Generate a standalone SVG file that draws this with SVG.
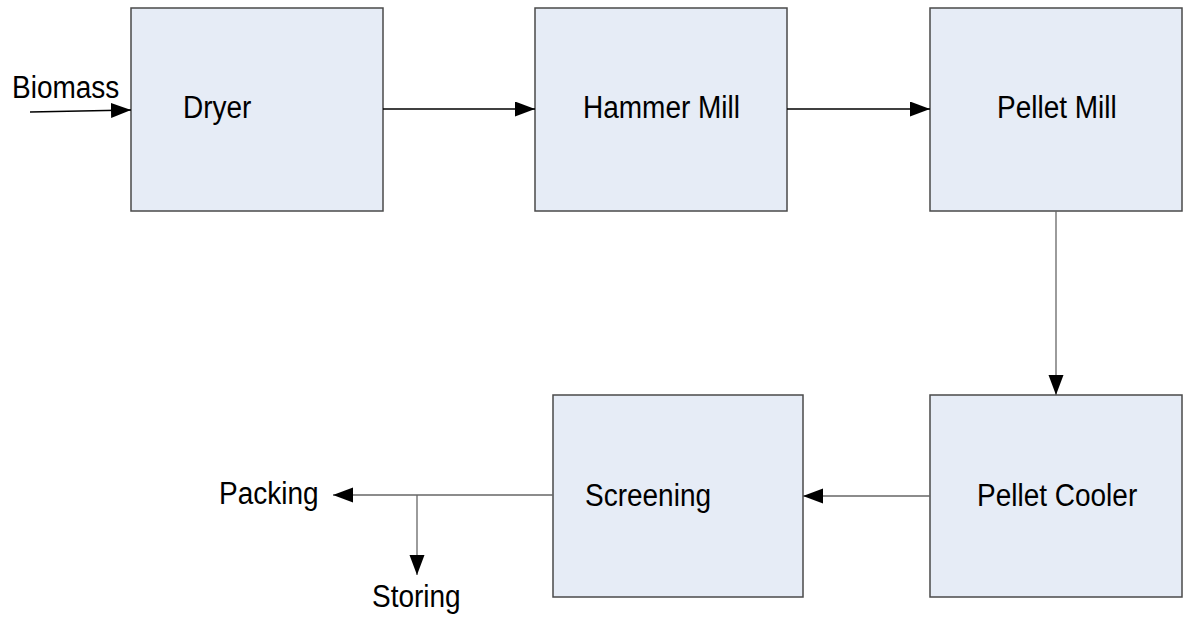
<svg xmlns="http://www.w3.org/2000/svg" width="1184" height="620" viewBox="0 0 1184 620">
<style>
.box{fill:#E6ECF6;stroke:#4a4a4a;stroke-width:1.5}
.lbl{font-family:"Liberation Sans",Arial,sans-serif;font-size:28px;fill:#000}
.conn{stroke:#000;stroke-width:1.3;fill:none}
.gray{stroke:#666}
</style>
<defs>
<marker id="ah" markerUnits="userSpaceOnUse" markerWidth="22" markerHeight="16" refX="20" refY="7.5" orient="auto">
<path d="M0,0 L20,7.5 L0,15 z" fill="#000"/>
</marker>
</defs>
<rect width="1184" height="620" fill="#fff"/>
<g id="dryer"><rect class="box" x="131" y="8" width="252" height="203"/><text class="lbl" transform="translate(183,118) scale(1,1.13)">Dryer</text></g>
<g id="hammer-mill"><rect class="box" x="535" y="8" width="252" height="203"/><text class="lbl" transform="translate(583,118) scale(1,1.13)">Hammer Mill</text></g>
<g id="pellet-mill"><rect class="box" x="930" y="8" width="252" height="203"/><text class="lbl" transform="translate(997,118) scale(1,1.13)">Pellet Mill</text></g>
<g id="pellet-cooler"><rect class="box" x="930" y="395" width="252" height="202"/><text class="lbl" transform="translate(977,506) scale(1,1.13)">Pellet Cooler</text></g>
<g id="screening"><rect class="box" x="553" y="395" width="250" height="202"/><text class="lbl" transform="translate(585,506) scale(1,1.13)">Screening</text></g>
<g id="labels">
<text class="lbl" transform="translate(12,98) scale(1,1.13)">Biomass</text>
<text class="lbl" transform="translate(219,504) scale(1,1.13)">Packing</text>
<text class="lbl" transform="translate(372,607) scale(1,1.13)">Storing</text>
</g>
<g id="connectors">
<line class="conn" x1="30" y1="112" x2="131" y2="110" marker-end="url(#ah)"/>
<line class="conn" x1="383" y1="109" x2="535" y2="109" marker-end="url(#ah)"/>
<line class="conn" x1="787" y1="109" x2="930" y2="109" marker-end="url(#ah)"/>
<line class="conn gray" x1="1056" y1="211" x2="1056" y2="395" marker-end="url(#ah)"/>
<line class="conn gray" x1="930" y1="496" x2="803" y2="496" marker-end="url(#ah)"/>
<line class="conn gray" x1="553" y1="495" x2="333" y2="495" marker-end="url(#ah)"/>
<line class="conn gray" x1="417" y1="495" x2="417" y2="575" marker-end="url(#ah)"/>
</g>
</svg>
